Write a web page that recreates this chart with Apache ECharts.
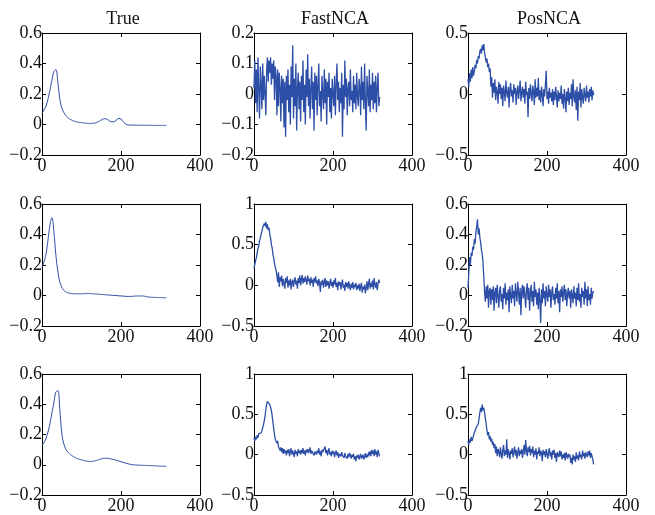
<!DOCTYPE html>
<html><head><meta charset="utf-8">
<script src="https://cdn.jsdelivr.net/npm/echarts@6/dist/echarts.min.js"></script>
<style>html,body{margin:0;padding:0;background:#fff}#c{width:655px;height:515px}</style>
</head><body><div id="c"></div>
<script>
// titles of the three columns
const columnTitles = ["True", "FastNCA", "PosNCA"];

// sample spacing (x units) of the smooth and noisy traces
const smoothStep = 5;
const noisyStep = 2;

// Row 1
const true1 = [0.075,0.095,0.12,0.165,0.225,0.29,0.345,0.36,0.28,0.17,0.11,0.08,0.06,0.046,0.036,0.029,0.023,0.019,0.016,0.014,0.012,0.010,0.009,0.008,0.007,0.007,0.008,0.010,0.015,0.022,0.030,0.036,0.038,0.034,0.025,0.018,0.017,0.022,0.033,0.040,0.036,0.020,0.006,-0.001,-0.003,-0.004,-0.004,-0.004,-0.004,-0.005,-0.005,-0.005,-0.005,-0.005,-0.005,-0.005,-0.006,-0.006,-0.006,-0.006,-0.006,-0.006,-0.006,-0.006];
const fast1 = [0.02,0.11,-0.03,0.08,-0.06,0.12,0.01,-0.08,0.09,0.03,
-0.05,0.10,-0.02,0.06,0.00,-0.07,0.08,0.12,0.04,0.11,
0.07,0.12,0.03,0.10,0.05,0.11,-0.02,0.09,0.06,-0.07,
0.08,-0.04,0.07,0.02,-0.09,0.06,-0.03,0.05,-0.11,0.04,
-0.14,0.06,-0.02,0.08,-0.06,0.03,-0.10,0.09,-0.01,0.16,
-0.08,0.05,-0.04,0.10,-0.12,0.02,0.07,-0.05,0.04,-0.09,
0.06,-0.02,0.11,-0.06,0.03,-0.10,0.08,-0.01,0.13,-0.04,
0.05,-0.08,0.02,0.09,-0.05,0.04,-0.12,0.07,-0.02,0.06,
-0.07,0.03,0.10,-0.04,0.01,-0.09,0.06,0.00,-0.05,0.08,
-0.03,0.05,-0.10,0.04,-0.01,0.07,-0.06,0.02,-0.08,0.05,
0.00,-0.04,0.06,-0.07,0.03,0.10,-0.02,0.04,-0.06,0.02,
-0.03,0.07,-0.14,0.03,-0.05,0.11,-0.01,0.05,-0.07,0.02,
0.04,-0.04,0.08,-0.02,0.01,-0.06,0.06,-0.03,0.03,-0.05,
0.07,-0.01,-0.04,0.05,0.02,-0.07,0.09,-0.02,0.04,-0.05,
0.10,-0.03,-0.12,0.06,0.01,-0.04,0.08,-0.06,0.03,-0.02,
0.07,-0.05,0.04,-0.03,0.06,-0.06,0.02,0.07,-0.04,-0.01];
const pos1 = [0.12,0.06,0.17,0.10,0.20,0.13,0.22,0.15,0.19,0.24,
0.21,0.28,0.25,0.31,0.29,0.35,0.37,0.33,0.40,0.36,
0.41,0.34,0.30,0.26,0.29,0.22,0.25,0.18,0.21,0.06,
0.14,-0.03,0.09,0.01,0.12,-0.05,0.06,0.02,-0.08,0.10,
0.00,0.08,-0.04,0.05,-0.10,0.07,0.02,-0.06,0.11,0.01,
-0.03,0.06,-0.11,0.04,0.09,-0.02,0.03,-0.07,0.08,0.00,
0.05,-0.09,0.02,0.07,-0.04,0.03,0.11,-0.06,0.01,0.06,
-0.03,0.04,-0.08,0.10,-0.01,0.02,-0.19,0.05,-0.04,0.08,
0.00,-0.06,0.07,0.02,-0.09,0.12,-0.03,0.05,-0.02,0.13,
-0.05,0.03,-0.07,0.06,0.00,-0.10,0.04,-0.02,0.08,0.19,
-0.04,0.02,-0.08,0.05,-0.03,0.01,-0.06,0.04,-0.09,0.02,
-0.05,0.06,-0.02,-0.11,0.03,-0.06,0.01,-0.04,0.07,-0.08,
0.00,-0.12,0.04,-0.03,-0.15,0.02,-0.06,0.05,-0.09,0.01,
-0.04,0.08,-0.10,0.12,-0.02,-0.07,0.03,-0.13,0.06,-0.22,
0.02,-0.05,0.09,-0.11,0.04,-0.03,-0.08,0.05,-0.01,-0.06,
0.07,-0.03,0.02,-0.07,0.04,-0.02,0.06,-0.05,0.03,-0.01];

// Row 2
const true2 = [0.185,0.22,0.27,0.36,0.46,0.51,0.42,0.27,0.16,0.09,0.055,0.035,0.025,0.018,0.015,0.013,0.012,0.011,0.011,0.011,0.011,0.012,0.012,0.013,0.013,0.012,0.011,0.010,0.009,0.008,0.007,0.006,0.005,0.004,0.003,0.002,0.001,0.000,-0.001,-0.002,-0.003,-0.004,-0.005,-0.006,-0.006,-0.006,-0.005,-0.004,-0.003,-0.003,-0.003,-0.003,-0.005,-0.008,-0.010,-0.011,-0.012,-0.012,-0.013,-0.013,-0.014,-0.014,-0.015,-0.015];
const fast2 = [0.21,0.26,0.30,0.34,0.40,0.45,0.48,0.55,0.58,0.63,
0.66,0.71,0.69,0.76,0.73,0.78,0.70,0.75,0.68,0.71,
0.62,0.58,0.50,0.46,0.38,0.33,0.27,0.22,0.18,0.12,
0.04,0.16,-0.02,0.10,0.05,0.12,-0.01,0.08,0.02,-0.04,
0.09,0.03,0.11,-0.03,0.06,0.00,0.08,-0.05,0.04,0.07,
-0.02,0.05,0.10,0.01,0.06,-0.04,0.09,0.03,0.12,0.00,
0.07,0.13,0.02,0.09,0.04,0.11,0.06,0.01,0.12,0.05,
0.08,0.00,0.10,0.03,0.07,-0.02,0.09,0.04,0.11,0.02,
0.06,-0.01,0.08,0.03,-0.08,0.05,0.01,0.07,-0.03,0.04,
0.09,-0.02,0.06,0.00,0.05,-0.04,0.03,0.08,-0.01,0.04,
-0.03,0.06,0.01,0.09,-0.02,0.03,-0.06,0.05,0.00,0.04,
-0.05,0.02,0.07,-0.03,0.01,-0.07,0.04,-0.02,0.03,-0.04,
0.05,-0.01,-0.06,0.02,-0.03,0.04,-0.05,0.01,-0.02,0.03,
-0.06,0.00,-0.04,0.02,-0.07,-0.01,0.03,-0.09,-0.02,-0.05,
0.01,-0.10,-0.03,0.05,-0.06,0.02,0.08,-0.04,0.03,-0.02,
0.06,-0.05,0.09,0.01,-0.03,0.04,-0.06,0.02,0.07,0.03];
const pos2 = [0.05,0.15,0.25,0.20,0.28,0.26,0.32,0.30,0.37,0.34,
0.42,0.45,0.50,0.40,0.44,0.38,0.35,0.30,0.27,0.22,
0.12,0.02,-0.04,0.06,-0.02,0.07,-0.08,0.03,0.05,-0.06,
0.04,-0.03,0.06,-0.10,0.02,0.05,-0.05,0.07,0.00,-0.08,
0.03,0.06,-0.04,0.01,-0.09,0.05,-0.02,0.08,-0.06,0.02,
-0.03,0.04,-0.11,0.06,0.00,-0.05,0.07,-0.02,0.03,-0.07,
0.08,0.01,-0.04,0.09,0.02,-0.06,0.05,-0.13,0.03,0.07,
-0.02,0.06,0.00,-0.08,0.04,0.08,-0.03,0.05,-0.10,0.02,
0.07,-0.04,0.03,-0.07,0.09,-0.01,0.04,-0.06,0.02,-0.09,
0.05,-0.03,-0.18,0.04,-0.05,0.08,-0.02,0.03,-0.07,0.06,
0.00,-0.04,0.07,-0.01,0.04,-0.08,0.02,0.06,-0.03,0.01,
-0.06,0.05,-0.02,0.08,-0.05,0.03,-0.11,0.04,-0.01,0.06,
-0.04,0.02,0.07,-0.03,0.04,-0.07,0.01,0.05,-0.02,0.03,
-0.08,0.04,0.00,-0.05,0.06,-0.02,0.02,-0.07,0.05,-0.03,
0.08,-0.04,0.01,-0.08,0.05,-0.01,0.03,-0.06,0.09,-0.02,
0.04,-0.07,0.06,-0.03,0.01,-0.06,0.05,-0.02,0.02,0.03];

// Row 3
const true3 = [0.13,0.145,0.175,0.215,0.27,0.34,0.41,0.48,0.49,0.37,0.21,0.14,0.105,0.085,0.072,0.062,0.053,0.046,0.040,0.036,0.032,0.029,0.026,0.024,0.022,0.022,0.023,0.026,0.030,0.035,0.039,0.042,0.043,0.043,0.041,0.038,0.035,0.032,0.028,0.024,0.020,0.016,0.012,0.008,0.005,0.002,0.000,-0.001,-0.002,-0.003,-0.003,-0.004,-0.004,-0.005,-0.005,-0.006,-0.006,-0.007,-0.008,-0.008,-0.009,-0.010,-0.010,-0.011];
const fast3 = [0.21,0.17,0.22,0.19,0.24,0.21,0.26,0.25,0.28,0.27,
0.30,0.32,0.37,0.42,0.48,0.56,0.62,0.66,0.64,0.67,
0.62,0.60,0.55,0.48,0.40,0.32,0.25,0.19,0.21,0.14,
0.17,0.10,0.12,0.05,0.09,0.03,0.08,0.01,0.07,0.02,
0.05,-0.01,0.06,0.02,0.07,-0.02,0.04,0.08,0.00,0.05,
0.03,-0.03,0.06,0.01,0.04,-0.02,0.07,0.02,0.05,0.00,
0.06,0.02,0.08,0.01,0.05,-0.01,0.06,0.03,0.07,0.02,
0.04,0.09,0.01,0.05,0.03,0.07,-0.01,0.04,0.06,0.00,
0.05,0.02,0.08,0.00,0.04,-0.02,0.06,0.03,0.01,0.05,
0.10,0.02,0.06,-0.01,0.04,0.08,0.00,0.03,-0.02,0.05,
0.01,0.04,-0.03,0.02,0.05,-0.01,0.03,-0.04,0.01,0.02,
-0.02,0.03,-0.01,0.01,-0.04,0.02,-0.02,0.00,-0.05,0.01,
-0.03,0.02,-0.01,-0.05,0.00,-0.03,0.01,-0.06,-0.02,-0.08,
-0.01,-0.04,0.00,-0.06,-0.02,0.01,-0.05,-0.03,0.00,-0.06,
-0.02,0.02,-0.04,0.00,-0.03,0.03,-0.01,0.04,-0.02,0.06,
0.01,0.05,-0.02,0.07,0.00,0.04,-0.03,0.06,0.02,-0.02];
const pos3 = [0.17,0.12,0.19,0.15,0.22,0.17,0.20,0.24,0.26,0.30,
0.32,0.35,0.34,0.38,0.45,0.52,0.58,0.53,0.62,0.55,
0.58,0.52,0.45,0.38,0.30,0.24,0.28,0.19,0.23,0.16,
0.20,0.12,0.16,0.08,0.13,0.02,0.10,-0.02,0.07,0.04,
-0.03,0.09,0.01,-0.05,0.06,0.12,-0.02,0.05,0.00,0.19,
-0.04,0.07,0.02,-0.06,0.05,0.01,0.08,-0.03,0.04,0.10,
-0.01,0.06,-0.05,0.03,0.09,-0.02,0.05,0.01,0.07,-0.04,
0.04,0.12,0.00,0.18,0.06,-0.02,0.09,0.03,0.11,-0.01,
0.07,0.02,0.10,-0.03,0.05,0.00,0.08,-0.06,0.04,0.01,
0.09,-0.02,0.05,0.02,-0.08,0.06,0.00,0.04,-0.03,0.07,
0.01,-0.05,0.04,0.08,-0.02,0.03,-0.06,0.05,0.00,0.06,
-0.04,0.02,-0.09,0.03,0.01,-0.03,0.05,-0.02,0.04,-0.06,
0.00,-0.04,0.02,-0.07,0.03,-0.01,-0.05,0.01,-0.03,0.00,
-0.10,-0.04,-0.12,0.00,-0.06,-0.02,-0.09,0.03,-0.05,-0.01,
-0.07,0.04,-0.03,0.00,-0.06,0.05,-0.02,0.02,-0.05,0.03,
0.00,-0.03,0.04,-0.01,0.05,-0.04,0.02,-0.02,-0.06,-0.12];

// y axis ranges per panel [min, max, interval]
const yRanges = [
  [-0.2, 0.6, 0.2], [-0.2, 0.2, 0.1], [-0.5, 0.5, 0.5],
  [-0.2, 0.6, 0.2], [-0.5, 1, 0.5], [-0.2, 0.6, 0.2],
  [-0.2, 0.6, 0.2], [-0.5, 1, 0.5], [-0.5, 1, 0.5]
];
const xRange = [0, 400, 200];

const panels = [
  [true1, smoothStep], [fast1, noisyStep], [pos1, noisyStep],
  [true2, smoothStep], [fast2, noisyStep], [pos2, noisyStep],
  [true3, smoothStep], [fast3, noisyStep], [pos3, noisyStep]
];

const colLeft = [42, 254, 468];
const rowTop = [33, 204, 374];
const W = 158, H = 122;
const lineColor = '#2d4ea6';
const font = 'Liberation Serif';

function fmt(v) {
  const r = parseFloat(Number(v).toFixed(2));
  return r < 0 ? '\u2212' + String(Math.abs(r)) : String(r);
}

const grid = [], xAxis = [], yAxis = [], series = [], title = [];
panels.forEach((p, i) => {
  const r = Math.floor(i / 3), c = i % 3;
  grid.push({left: colLeft[c], top: rowTop[r], width: W, height: H, show: false});
  const common = {
    gridIndex: i, type: 'value', min: xRange[0], max: xRange[1], interval: xRange[2],
    axisLine: {show: true, onZero: false, lineStyle: {color: '#000', width: 1}},
    axisTick: {show: true, inside: true, length: 4, lineStyle: {color: '#000'}},
    splitLine: {show: false}
  };
  xAxis.push(Object.assign({}, common, {position: 'bottom',
    axisLabel: {show: true, margin: 2, color: '#111', fontFamily: font, fontSize: 18, formatter: fmt}}));
  xAxis.push(Object.assign({}, common, {position: 'top', axisLabel: {show: false}}));
  const yr = yRanges[i];
  const ycommon = Object.assign({}, common, {min: yr[0], max: yr[1], interval: yr[2]});
  yAxis.push(Object.assign({}, ycommon, {position: 'left',
    axisLabel: {show: true, margin: 0, color: '#111', fontFamily: font, fontSize: 18, formatter: fmt}}));
  yAxis.push(Object.assign({}, ycommon, {position: 'right', axisLabel: {show: false}}));
  const vals = p[0], step = p[1];
  series.push({
    type: 'line', xAxisIndex: 2 * i, yAxisIndex: 2 * i,
    data: vals.map((v, k) => [k * step, v]),
    showSymbol: false, symbol: 'none', smooth: step === smoothStep ? 0.4 : false,
    lineStyle: {color: lineColor, width: step === smoothStep ? 1 : 1.3}, animation: false, silent: true
  });
});
columnTitles.forEach((t, c) => {
  title.push({text: t, left: colLeft[c] + W / 2 - 3, top: 5, textAlign: 'center',
    textStyle: {fontFamily: font, fontSize: 18, fontWeight: 'normal', color: '#111'}});
});

const chart = echarts.init(document.getElementById('c'), null, {renderer: 'canvas'});
chart.setOption({backgroundColor: '#fff', animation: false, title, grid, xAxis, yAxis, series});
</script></body></html>
